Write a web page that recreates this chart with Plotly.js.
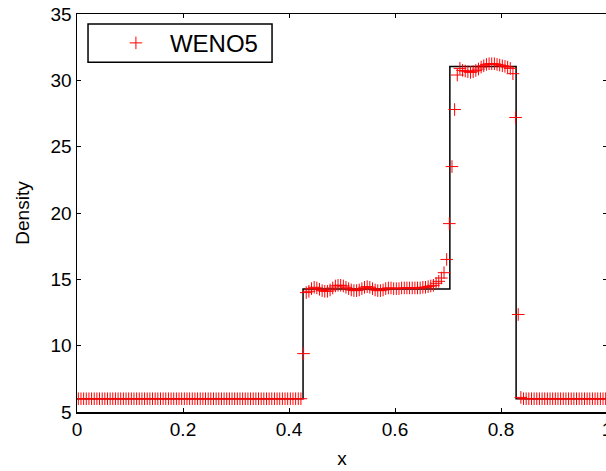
<!DOCTYPE html>
<html>
<head>
<meta charset="utf-8">
<script src="https://cdn.plot.ly/plotly-3.0.1.min.js"></script>
<style>
html, body { margin: 0; padding: 0; overflow: hidden; background: #fff; }
#chart { width: 610px; height: 471px; }
</style>
</head>
<body>
<div id="chart"></div>
<script>
// Exact solution (piecewise constant): breakpoints and densities
var exactX = [0, 0.4265, 0.4265, 0.7035, 0.7035, 0.8285, 0.8285, 1];
var exactY = [6.0, 6.0, 14.28, 14.28, 31.04, 31.04, 5.99, 5.99];

// WENO5 numerical solution on a uniform 200-cell grid (first centre 0.0025, spacing 0.005)
var wenoX0 = 0.0025;
var wenoDx = 0.005;
var wenoY = [
  // 0.0025 .. 0.4225 (85 cells)
  6.0,6.0,6.0,6.0,6.0,6.0,6.0,6.0,6.0,6.0,
  6.0,6.0,6.0,6.0,6.0,6.0,6.0,6.0,6.0,6.0,
  6.0,6.0,6.0,6.0,6.0,6.0,6.0,6.0,6.0,6.0,
  6.0,6.0,6.0,6.0,6.0,6.0,6.0,6.0,6.0,6.0,
  6.0,6.0,6.0,6.0,6.0,6.0,6.0,6.0,6.0,6.0,
  6.0,6.0,6.0,6.0,6.0,6.0,6.0,6.0,6.0,6.0,
  6.0,6.0,6.0,6.0,6.0,6.0,6.0,6.0,6.0,6.0,
  6.0,6.0,6.0,6.0,6.0,6.0,6.0,6.0,6.0,6.0,
  6.0,6.0,6.0,6.0,6.0,
  // 0.4275, 0.4325
  9.4, 14.0,
  // 0.4375 .. 0.6825 (50 cells)
  14.1,14.3,14.4,14.35,14.25,14.15,14.1,14.1,14.2,14.35,
  14.5,14.55,14.55,14.5,14.4,14.3,14.2,14.15,14.15,14.2,
  14.3,14.4,14.45,14.4,14.3,14.2,14.15,14.15,14.2,14.3,
  14.35,14.35,14.3,14.3,14.3,14.35,14.35,14.35,14.35,14.35,
  14.35,14.35,14.35,14.4,14.4,14.45,14.5,14.55,14.7,14.85,
  // 0.6875 .. 0.7175
  15.1, 15.5, 16.5, 19.2, 23.5, 27.8, 30.4,
  // 0.7225 .. 0.8175 (20 cells)
  30.9,30.75,30.7,30.65,30.6,30.65,30.75,30.85,31.0,31.1,
  31.2,31.25,31.25,31.25,31.2,31.15,31.1,31.05,31.0,30.9,
  // 0.8225 .. 0.8375
  30.5, 27.2, 12.35, 6.1,
  // 0.8425 .. 0.9975 (32 cells)
  6.0,6.0,6.0,6.0,6.0,6.0,6.0,6.0,6.0,6.0,
  6.0,6.0,6.0,6.0,6.0,6.0,6.0,6.0,6.0,6.0,
  6.0,6.0,6.0,6.0,6.0,6.0,6.0,6.0,6.0,6.0,
  6.0,6.0
];

var xTicks = [0, 0.2, 0.4, 0.6, 0.8, 1];
var xTickText = ['0', '0.2', '0.4', '0.6', '0.8', '1'];
var yTicks = [5, 10, 15, 20, 25, 30, 35];
var yTickText = ['5', '10', '15', '20', '25', '30', '35'];

var traces = [
  {
    x: exactX, y: exactY, type: 'scatter', mode: 'lines',
    line: { color: '#000', width: 1.5 }, showlegend: false, hoverinfo: 'skip'
  },
  {
    x0: wenoX0, dx: wenoDx, y: wenoY, type: 'scatter', mode: 'markers',
    name: 'WENO5',
    marker: { symbol: 'cross-thin', size: 9, color: '#ff0000', line: { color: '#ff0000', width: 1 } }
  }
];

var fontFam = 'Liberation Sans, Arial, sans-serif';
var layout = {
  width: 610, height: 471,
  margin: { l: 77, r: 3, t: 14, b: 59, pad: 0 },
  paper_bgcolor: '#fff', plot_bgcolor: '#fff',
  font: { family: fontFam, size: 19, color: '#000' },
  showlegend: true,
  legend: {
    x: 0.047, y: 0.983, xanchor: 'left', yanchor: 'top',
    bgcolor: 'rgba(0,0,0,0)', borderwidth: 0, itemwidth: 58,
    font: { family: fontFam, size: 24, color: '#000' }
  },
  shapes: [
    { type: 'rect', xref: 'paper', yref: 'paper',
      x0: 0.0208, x1: 0.368, y0: 0.879, y1: 0.975,
      line: { color: '#000', width: 1.5 }, fillcolor: '#fff', layer: 'above' }
  ],
  xaxis: {
    range: [0, 1], tickvals: xTicks, ticktext: xTickText,
    ticks: 'inside', ticklen: 4, tickwidth: 1, tickcolor: '#000',
    showline: true, linecolor: '#000', linewidth: 1.5, mirror: 'ticks',
    showgrid: false, zeroline: false, ticklabeloverflow: 'allow',
    title: { text: 'x', font: { family: fontFam, size: 19 }, standoff: 12 }
  },
  yaxis: {
    range: [5, 35], tickvals: yTicks, ticktext: yTickText,
    ticks: 'inside', ticklen: 4, tickwidth: 1, tickcolor: '#000',
    showline: true, linecolor: '#000', linewidth: 1.5, mirror: 'ticks',
    showgrid: false, zeroline: false,
    title: { text: 'Density', font: { family: fontFam, size: 19 }, standoff: 16 }
  }
};

Plotly.newPlot('chart', traces, layout, { displayModeBar: false, staticPlot: true });
</script>
</body>
</html>
